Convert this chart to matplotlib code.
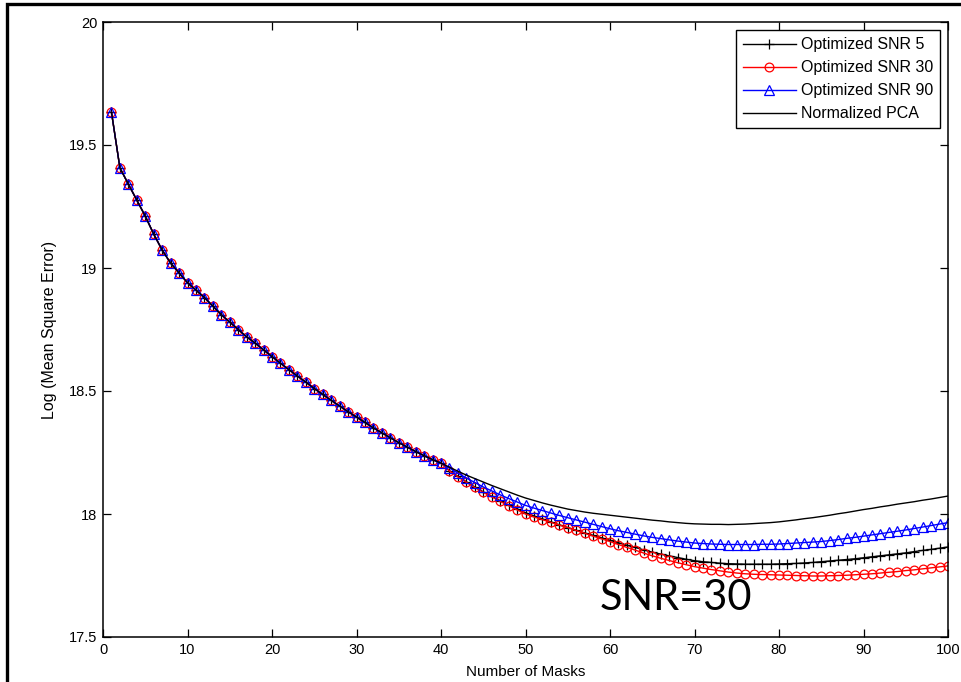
import numpy as np
import matplotlib
matplotlib.use("Agg")
import matplotlib.pyplot as plt
from matplotlib.patches import Rectangle
from matplotlib.ticker import FixedLocator, FuncFormatter

plt.rcParams['font.family'] = ['Liberation Sans', 'DejaVu Sans']

masks = list(range(1, 101))

# shared part of all four curves (masks 1..40)
head = [19.634, 19.407, 19.341, 19.276, 19.211, 19.138, 19.073, 19.020, 18.980, 18.940,
        18.910, 18.880, 18.845, 18.810, 18.780, 18.750, 18.720, 18.695, 18.667, 18.640,
        18.613, 18.587, 18.561, 18.536, 18.510, 18.486, 18.462, 18.439, 18.416, 18.394,
        18.372, 18.350, 18.330, 18.310, 18.290, 18.272, 18.254, 18.237, 18.221, 18.207]

# masks 41..100
snr5_tail = [18.176, 18.153, 18.131, 18.110, 18.090, 18.072, 18.054, 18.037, 18.021, 18.005,
             17.992, 17.980, 17.968, 17.956, 17.945, 17.934, 17.923, 17.913, 17.903, 17.893,
             17.883, 17.873, 17.864, 17.854, 17.845, 17.837, 17.830, 17.823, 17.816, 17.810,
             17.806, 17.803, 17.800, 17.798, 17.797, 17.796, 17.796, 17.796, 17.796, 17.797,
             17.798, 17.799, 17.801, 17.803, 17.806, 17.809, 17.812, 17.815, 17.818, 17.822,
             17.826, 17.830, 17.834, 17.838, 17.842, 17.847, 17.852, 17.856, 17.861, 17.866]

snr30_tail = [18.175, 18.151, 18.129, 18.108, 18.088, 18.070, 18.051, 18.034, 18.017, 18.000,
              17.988, 17.977, 17.966, 17.955, 17.945, 17.933, 17.922, 17.910, 17.899, 17.888,
              17.876, 17.864, 17.853, 17.841, 17.830, 17.820, 17.811, 17.802, 17.794, 17.786,
              17.780, 17.774, 17.769, 17.764, 17.760, 17.757, 17.755, 17.754, 17.753, 17.752,
              17.751, 17.750, 17.749, 17.748, 17.748, 17.749, 17.750, 17.751, 17.753, 17.755,
              17.757, 17.760, 17.763, 17.766, 17.770, 17.773, 17.777, 17.781, 17.785, 17.789]

snr90_tail = [18.187, 18.166, 18.146, 18.128, 18.110, 18.094, 18.078, 18.063, 18.049, 18.035,
              18.024, 18.014, 18.004, 17.994, 17.985, 17.976, 17.967, 17.958, 17.949, 17.940,
              17.932, 17.925, 17.918, 17.911, 17.905, 17.900, 17.895, 17.890, 17.886, 17.882,
              17.880, 17.878, 17.877, 17.876, 17.876, 17.876, 17.876, 17.877, 17.877, 17.878,
              17.880, 17.882, 17.884, 17.886, 17.888, 17.892, 17.896, 17.901, 17.905, 17.910,
              17.915, 17.920, 17.925, 17.930, 17.935, 17.941, 17.947, 17.953, 17.959, 17.965]

pca_tail = [18.190, 18.174, 18.158, 18.144, 18.130, 18.116, 18.103, 18.090, 18.077, 18.065,
            18.055, 18.045, 18.036, 18.028, 18.020, 18.014, 18.008, 18.003, 17.999, 17.995,
            17.991, 17.987, 17.983, 17.979, 17.975, 17.972, 17.968, 17.965, 17.962, 17.960,
            17.959, 17.958, 17.958, 17.957, 17.958, 17.959, 17.961, 17.963, 17.965, 17.968,
            17.972, 17.976, 17.981, 17.985, 17.990, 17.995, 18.001, 18.006, 18.012, 18.018,
            18.023, 18.029, 18.034, 18.040, 18.045, 18.050, 18.056, 18.061, 18.067, 18.073]

snr5 = head + snr5_tail
snr30 = head + snr30_tail
snr90 = head + snr90_tail
pca = head + pca_tail

fig = plt.figure(figsize=(9.61, 6.82), dpi=100)
ax = fig.add_axes([103 / 961, 1 - 637 / 682, 845 / 961, 615 / 682])

ax.plot(masks, snr5, color='black', marker='+', markersize=7.5, markeredgewidth=0.9,
        linewidth=1.0, label='Optimized SNR 5')
ax.plot(masks, snr30, color='red', marker='o', markersize=6.3, markerfacecolor='none',
        markeredgewidth=0.9, linewidth=1.0, label='Optimized SNR 30')
ax.plot(masks, snr90, color='blue', marker='^', markersize=7, markerfacecolor='none',
        markeredgewidth=0.9, linewidth=1.0, label='Optimized SNR 90')
ax.plot(masks, pca, color='black', linewidth=1.0, label='Normalized PCA')

ax.set_xlim(0, 100)
ax.set_ylim(17.5, 20)
ax.xaxis.set_major_locator(FixedLocator(np.arange(0, 101, 10)))
ax.yaxis.set_major_locator(FixedLocator([17.5, 18, 18.5, 19, 19.5, 20]))
ax.yaxis.set_major_formatter(FuncFormatter(lambda v, p: '%g' % v))
ax.tick_params(direction='in', length=6, width=0.9, top=True, right=True,
               labelsize=10.5, pad=4)
for s in ax.spines.values():
    s.set_linewidth(1.1)

ax.set_xlabel('Number of Masks', fontsize=11, labelpad=6)
ax.set_ylabel('Log (Mean Square Error)', fontsize=11.5, labelpad=9)

leg = ax.legend(loc='upper right', fontsize=11.5, frameon=True, fancybox=False,
                edgecolor='black', framealpha=1, handlelength=3.3, handletextpad=0.3,
                labelspacing=0.5, borderpad=0.45, borderaxespad=0.5)
leg.get_frame().set_linewidth(1.0)

ax.text(58.8, 17.61, 'SNR=30', fontsize=30, family=['Lato', 'DejaVu Sans'],
        ha='left', va='baseline')

# outer frame of the pasted figure
fig.patches.append(Rectangle((7 / 961, -0.2), 1.2, 1.2 - 4 / 682,
                             transform=fig.transFigure, fill=False,
                             edgecolor='black', linewidth=2.4))

fig.savefig('out.png', dpi=100)
